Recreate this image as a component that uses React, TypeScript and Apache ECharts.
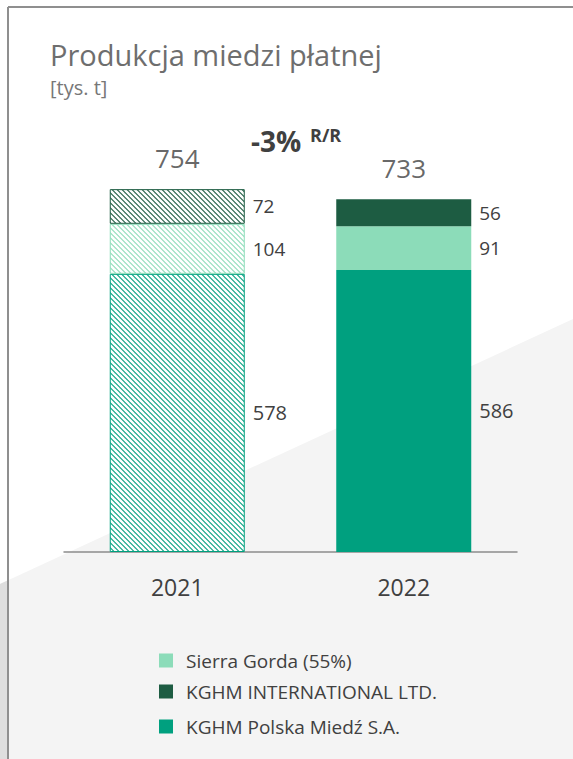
import React, { useEffect, useRef } from "react";
import * as echarts from "echarts";

const categories = ["2021", "2022"];
const polskaValues = [578, 586];
const sierraValues = [104, 91];
const internationalValues = [72, 56];
const seriesNames = ["KGHM Polska Miedź S.A.", "Sierra Gorda (55%)", "KGHM INTERNATIONAL LTD."];
const legendOrder = ["Sierra Gorda (55%)", "KGHM INTERNATIONAL LTD.", "KGHM Polska Miedź S.A."];
const titleText = "Produkcja miedzi płatnej";
const unitText = "[tys. t]";
const changeText = "-3%";
const changeSuffix = "R/R";

const COL_POLSKA = "#00a07f";
const COL_SIERRA = "#8cdcb9";
const COL_INTL = "#1d5c42";
const TXT = "#404040";
const FONT = "'Open Sans', sans-serif";

function hatch(color: string) {
  const P = 5;
  const c = document.createElement("canvas");
  c.width = P;
  c.height = P;
  const ctx = c.getContext("2d")!;
  ctx.fillStyle = color;
  ctx.fillRect(0, 0, P, P);
  ctx.strokeStyle = "#ffffff";
  ctx.lineWidth = 2.5;
  for (const k of [-P, 0, P]) {
    ctx.beginPath();
    ctx.moveTo(k - 1, -1);
    ctx.lineTo(k + P + 1, P + 1);
    ctx.stroke();
  }
  return { image: c, repeat: "repeat" };
}

export default function App() {
  const ref = useRef<HTMLDivElement>(null);
  useEffect(() => {
    const chart = echarts.init(ref.current!, null, { renderer: "svg" });
    const totals = categories.map((_, i) => polskaValues[i] + sierraValues[i] + internationalValues[i]);
    const segLabel = (size: number) => ({
      show: true,
      position: "right",
      distance: 8,
      color: TXT,
      fontFamily: FONT,
      fontSize: size,
    });
    const mkData = (vals: number[], color: string) =>
      vals.map((v, i) =>
        i === 0
          ? { value: v, itemStyle: { color: hatch(color), borderColor: color, borderWidth: 1 } }
          : { value: v }
      );
    const colors = [COL_POLSKA, COL_SIERRA, COL_INTL];
    const valueSets = [polskaValues, sierraValues, internationalValues];
    const barSeries = seriesNames.map((name, si) => ({
      name,
      type: "bar",
      stack: "total",
      barWidth: 135,
      itemStyle: { color: colors[si] },
      label: segLabel(si === 0 ? 20 : 19),
      data: mkData(valueSets[si], colors[si]),
    }));
    const legendTops = [651, 682, 717];
    const legends = legendOrder.map((name, i) => ({
      data: [name],
      left: 159,
      top: legendTops[i],
      padding: 0,
      icon: "rect",
      itemWidth: 14,
      itemHeight: 14,
      selectedMode: false,
      textStyle: { color: TXT, fontFamily: FONT, fontSize: 19, lineHeight: 14, padding: [0, 0, 0, 8] },
    }));
    chart.setOption({
      animation: false,
      backgroundColor: "#ffffff",
      grid: { left: 64, right: 56, top: 167, bottom: 207 },
      xAxis: {
        type: "category",
        data: categories,
        axisTick: { show: false },
        axisLine: { lineStyle: { color: "#8c8c8c", width: 1.5 } },
        axisLabel: { color: TXT, fontFamily: FONT, fontSize: 23, margin: 23 },
      },
      yAxis: { type: "value", min: 0, max: 800, show: false, splitLine: { show: false } },
      legend: legends,
      series: [
        ...barSeries,
        {
          name: "total",
          type: "scatter",
          symbolSize: 0,
          data: totals,
          label: {
            show: true,
            position: "top",
            distance: 18,
            color: TXT,
            fontFamily: FONT,
            fontSize: 26,
          },
        },
      ],
      graphic: [
        { type: "polygon", z: -10, shape: { points: [[0, 584], [573, 319], [573, 759], [0, 759]] }, style: { fill: "#f4f4f4" } },
        { type: "polygon", z: -9, shape: { points: [[0, 584], [8, 580.3], [8, 759], [0, 759]] }, style: { fill: "#dedede" } },
        { type: "line", z: -8, shape: { x1: 8, y1: 7, x2: 573, y2: 7 }, style: { stroke: "#8f8f8f", lineWidth: 2 } },
        { type: "line", z: -8, shape: { x1: 8, y1: 7, x2: 8, y2: 759 }, style: { stroke: "#8f8f8f", lineWidth: 2 } },
        { type: "text", x: 50, y: 54, style: { text: titleText, fill: "#6e6e6e", font: `29px ${FONT}`, textVerticalAlign: "middle" } },
        { type: "text", x: 50, y: 87, style: { text: unitText, fill: "#777777", font: `20px ${FONT}`, textVerticalAlign: "middle" } },
        { type: "text", x: 276, y: 141, style: { text: changeText, fill: TXT, font: `bold 28px ${FONT}`, textAlign: "center", textVerticalAlign: "middle" } },
        { type: "text", x: 310, y: 135, style: { text: changeSuffix, fill: TXT, font: `bold 18px ${FONT}`, textVerticalAlign: "middle" } },
      ],
    });
    return () => chart.dispose();
  }, []);
  return <div ref={ref} style={{ position: "absolute", left: 0, top: 0, width: 573, height: 759 }} />;
}
